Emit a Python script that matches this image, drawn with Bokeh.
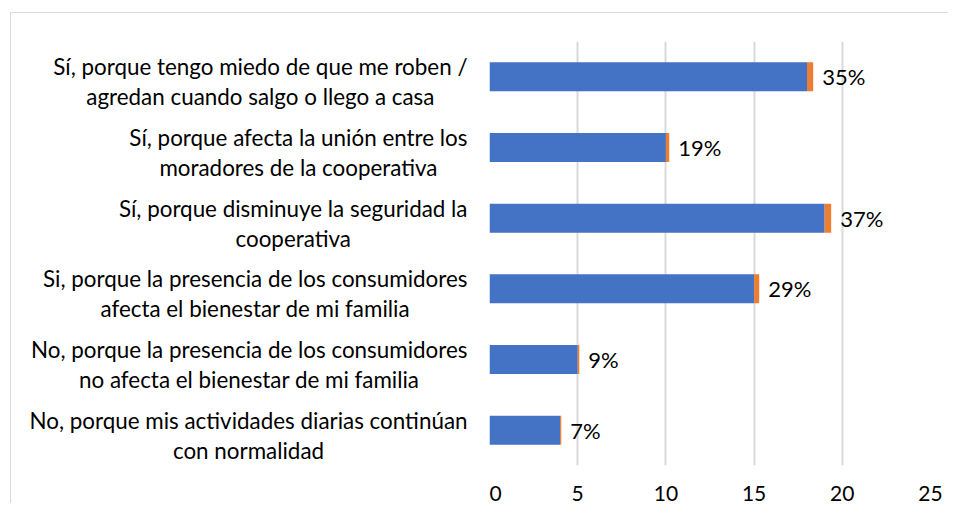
from bokeh.plotting import figure
from bokeh.layouts import row
from bokeh.models import ColumnDataSource, FixedTicker
from bokeh.core.properties import value
from bokeh.embed import file_html
from bokeh.resources import INLINE

categories = [
    "Sí, porque tengo miedo de que me roben /\nagredan cuando salgo o llego a casa",
    "Sí, porque afecta la unión entre los\nmoradores de la cooperativa",
    "Sí, porque disminuye la seguridad la\ncooperativa",
    "Si, porque la presencia de los consumidores\nafecta el bienestar de mi familia",
    "No, porque la presencia de los consumidores\nno afecta el bienestar de mi familia",
    "No, porque mis actividades diarias continúan\ncon normalidad",
]
counts = [18, 10, 19, 15, 5, 4]
shares = [0.35, 0.19, 0.37, 0.29, 0.09, 0.07]
x_ticks = [0, 5, 10, 15, 20, 25]

FONT = "Lato"
BLUE = "#4472C4"
ORANGE = "#ED7D31"
GRID = "#d9d9d9"

factors = list(reversed(categories))
totals = [c + s for c, s in zip(counts, shares)]
labels = [f"{round(s * 100)}%" for s in shares]
src = ColumnDataSource(dict(cat=categories, counts=counts, shares=shares,
                            totals=totals, labels=labels))

common = dict(output_backend="svg", toolbar_location=None, frame_height=424,
              min_border_top=28, min_border_bottom=38)

# main chart
p = figure(y_range=factors, x_range=(0, 25), frame_width=441,
           min_border_left=0, min_border_right=18, **common)
p.hbar_stack(["counts", "shares"], y="cat", height=0.41, color=[BLUE, ORANGE],
             line_color=None, source=src)
p.text(x="totals", y="cat", text="labels", source=src, x_offset=9,
       text_baseline="middle", text_align="left", text_font=value(FONT),
       text_font_size="22px", text_color="#000000")
p.outline_line_color = None
p.ygrid.grid_line_color = None
p.xgrid.grid_line_color = GRID
p.xgrid.grid_line_width = 2
p.xaxis.ticker = FixedTicker(ticks=x_ticks)
p.yaxis.visible = False
ax = p.xaxis
ax.axis_line_color = None
ax.major_tick_line_color = None
ax.minor_tick_line_color = None
ax.major_label_text_font = FONT
ax.major_label_text_font_size = "21px"
ax.major_label_text_color = "#000000"
ax.major_label_standoff = 14

# category label panel sharing the categorical y range
lab = figure(y_range=p.y_range, x_range=(0, 1), frame_width=478,
             min_border_left=0, min_border_right=0, **common)
lab.text(x=1, y="cat", text="cat", source=src, x_offset=-22, y_offset=5,
         anchor=value("center_right"), text_align=value("center"),
         text_baseline=value("middle"), text_font=value(FONT),
         text_font_size="22.4px", text_color="#000000", text_line_height=1.1)
lab.axis.visible = False
lab.grid.visible = False
lab.outline_line_color = None

layout = row(lab, p)
layout.margin = (12, 0, 0, 10)
layout.styles = {"border-top": "1.5px solid #d9d9d9", "border-left": "1.5px solid #d9d9d9"}

open("out.html", "w").write(file_html(layout, INLINE))
